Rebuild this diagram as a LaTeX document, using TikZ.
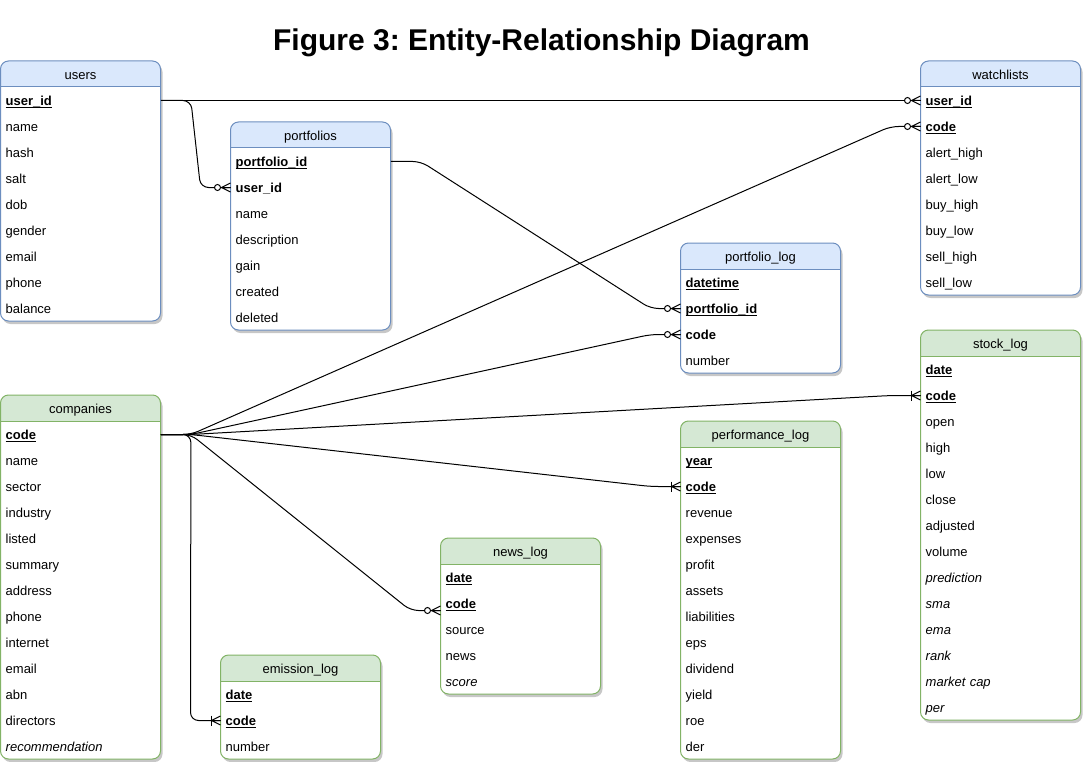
\documentclass[tikz,border=0pt]{standalone}
\usepackage{fontspec}
\setmainfont{Liberation Sans}
\usetikzlibrary{calc}
\frenchspacing

\definecolor{bluefill}{HTML}{DAE8FC}
\definecolor{bluedraw}{HTML}{6C8EBF}
\definecolor{greenfill}{HTML}{D5E8D4}
\definecolor{greendraw}{HTML}{82B366}

\newsavebox\pkbox
\newcommand\pk[1]{\sbox\pkbox{\bfseries #1}\rlap{\rule[-2.2pt]{\wd\pkbox}{0.9pt}}\usebox\pkbox}
\newcommand\fk[1]{\textbf{#1}}
\newcommand\tabfont{\fontsize{13pt}{15pt}\selectfont}

\tikzset{
  rowtxt/.style={anchor=west, text width=150pt, inner xsep=5pt, inner ysep=0pt,
    minimum height=26pt, align=left, text height=10pt, text depth=0pt, font=\tabfont},
  headtxt/.style={inner sep=0pt, text height=10pt, text depth=0pt, font=\tabfont},
  conn/.style={draw=black, line width=1pt, rounded corners=8pt},
  zmany/.pic={
    \draw[line width=1pt] (-9,0) -- (0,-4.5) (-9,0) -- (0,0) (-9,0) -- (0,4.5);
    \draw[line width=1pt, fill=white] (-13,0) circle[radius=3pt];
  },
  omany/.pic={
    \draw[line width=1pt] (-9,0) -- (0,-4.5) (-9,0) -- (0,0) (-9,0) -- (0,4.5);
    \draw[line width=1pt] (-9,-5) -- (-9,5);
  }
}

% #1 name, #2 x, #3 y, #4 fill, #5 draw, #6 nrows, #7 title, #8 rows
\newcommand\ertable[8]{%
  \fill[black, opacity=0.22, rounded corners=8pt] (#2+2,#3+3) rectangle ++(160,26+#6*26);
  \fill[white, rounded corners=8pt] (#2,#3) rectangle ++(160,26+#6*26);
  \begin{scope}
    \clip[rounded corners=8pt] (#2,#3) rectangle ++(160,26+#6*26);
    \fill[#4] (#2,#3) rectangle ++(160,26);
  \end{scope}
  \draw[#5, line width=1pt] (#2,#3+26) -- ++(160,0);
  \draw[#5, line width=1pt, rounded corners=8pt] (#2,#3) rectangle ++(160,26+#6*26);
  \node[headtxt] (#1) at (#2+80,#3+13.5) {#7};
  \foreach \r [count=\i] in {#8} {
    \node[rowtxt] (#1-\i) at (#2,#3+13.5+\i*26) {\r};
  }
}

\newcommand\erlink[2]{%
  \draw[conn] (#1) -- ++(30,0) -- ($(#2)+(-30,0)$) -- (#2);
}

\begin{document}
\begin{tikzpicture}[x=1pt,y=-1pt]
\useasboundingbox (0,0) rectangle (1083,762);

\node[font=\fontsize{30pt}{36pt}\selectfont\bfseries, anchor=base, inner sep=0pt] (title) at (541.5,51)
  {Figure 3: Entity-Relationship Diagram};

\ertable{users}{0.5}{61}{bluefill}{bluedraw}{9}{users}
  {\pk{user\_id}, name, hash, salt, dob, gender, email, phone, balance}
\ertable{portfolios}{230.5}{122}{bluefill}{bluedraw}{7}{portfolios}
  {\pk{portfolio\_id}, \fk{user\_id}, name, description, gain, created, deleted}
\ertable{watchlists}{920.5}{61}{bluefill}{bluedraw}{8}{watchlists}
  {\pk{user\_id}, \pk{code}, alert\_high, alert\_low, buy\_high, buy\_low, sell\_high, sell\_low}
\ertable{plog}{680.5}{243}{bluefill}{bluedraw}{4}{portfolio\_log}
  {\pk{datetime}, \pk{portfolio\_id}, \fk{code}, number}
\ertable{companies}{0.5}{395}{greenfill}{greendraw}{13}{companies}
  {\pk{code}, name, sector, industry, listed, summary, address, phone, internet, email, abn, directors, \textit{recommendation}}
\ertable{stocklog}{920.5}{330}{greenfill}{greendraw}{14}{stock\_log}
  {\pk{date}, \pk{code}, open, high, low, close, adjusted, volume, \textit{prediction}, \textit{sma}, \textit{ema}, \textit{rank}, \textit{market cap}, \textit{per}}
\ertable{perflog}{680.5}{421}{greenfill}{greendraw}{12}{performance\_log}
  {\pk{year}, \pk{code}, revenue, expenses, profit, assets, liabilities, eps, dividend, yield, roe, der}
\ertable{newslog}{440.5}{538}{greenfill}{greendraw}{5}{news\_log}
  {\pk{date}, \pk{code}, source, news, \textit{score}}
\ertable{emission}{220.5}{655}{greenfill}{greendraw}{3}{emission\_log}
  {\pk{date}, \pk{code}, number}

\coordinate (nlc) at ([yshift=-7pt]newslog-2.west);

\erlink{users-1.east}{watchlists-1.west}
\erlink{users-1.east}{portfolios-2.west}
\erlink{portfolios-1.east}{plog-2.west}
\erlink{companies-1.east}{watchlists-2.west}
\erlink{companies-1.east}{plog-3.west}
\erlink{companies-1.east}{stocklog-2.west}
\erlink{companies-1.east}{perflog-2.west}
\erlink{companies-1.east}{nlc}
\erlink{companies-1.east}{emission-2.west}

\pic at (watchlists-1.west) {zmany};
\pic at (portfolios-2.west) {zmany};
\pic at (plog-2.west) {zmany};
\pic at (watchlists-2.west) {zmany};
\pic at (plog-3.west) {zmany};
\pic at (stocklog-2.west) {omany};
\pic at (perflog-2.west) {omany};
\pic at (nlc) {zmany};
\pic at (emission-2.west) {omany};
\end{tikzpicture}
\end{document}
